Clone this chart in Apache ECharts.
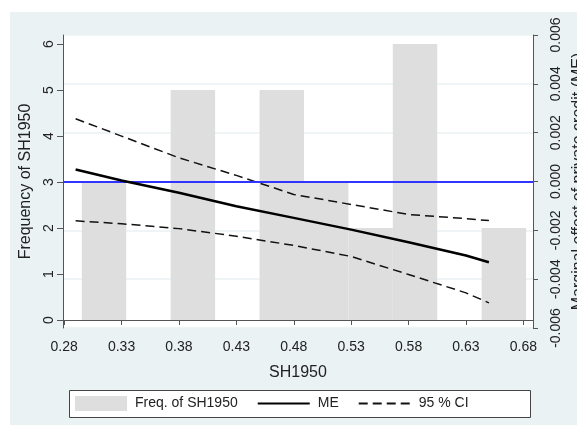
<!DOCTYPE html>
<html>
<head>
<meta charset="utf-8">
<script src="https://cdn.jsdelivr.net/npm/echarts@6.0.0/dist/echarts.min.js"></script>
<style>
  body { margin: 0; background: #fff; }
  #bg { position: absolute; left: 10px; top: 12px; width: 567px; height: 413px; background: #eaf2f3; }
  #chart { position: absolute; left: 0; top: 0; width: 577px; height: 425px; }
</style>
</head>
<body>
<div id="bg"></div>
<div id="chart"></div>
<script>
// histogram of SH1950 (bin edges + counts, left axis)
var binEdges = [0.2954, 0.3341, 0.3728, 0.4115, 0.4502, 0.4889, 0.5276, 0.5663, 0.6050, 0.6437, 0.6824];
var freq = [3, 0, 5, 0, 5, 3, 2, 6, 0, 2];

// marginal effect and 95% CI (right axis)
var meX = [0.29, 0.33, 0.38, 0.43, 0.48, 0.53, 0.58, 0.63, 0.65];
var me = [0.00049, 0.00004, -0.00046, -0.00101, -0.00149, -0.00197, -0.00249, -0.00303, -0.00331];
var ciUpper = [0.00257, 0.00186, 0.00097, 0.00025, -0.00053, -0.00094, -0.00135, -0.00152, -0.00160];
var ciLower = [-0.00161, -0.00173, -0.00193, -0.00224, -0.00262, -0.00307, -0.00381, -0.00456, -0.00497];

// tick labels
var xTicks = [0.28, 0.33, 0.38, 0.43, 0.48, 0.53, 0.58, 0.63, 0.68];
var freqTicks = [0, 1, 2, 3, 4, 5, 6];

var bars = [];
for (var i = 0; i < freq.length; i++) {
  bars.push([binEdges[i], binEdges[i + 1], freq[i]]);
}
function pairs(xs, ys) {
  var out = [];
  for (var i = 0; i < xs.length; i++) out.push([xs[i], ys[i]]);
  return out;
}

var font = "'Liberation Sans', Arial, sans-serif";
var txt = "#222";
var axisCol = "#555";

var chart = echarts.init(document.getElementById("chart"));
chart.setOption({
  backgroundColor: "transparent",
  animation: false,
  textStyle: { fontFamily: font },
  grid: {
    left: 63,
    right: 44,
    top: 35,
    bottom: 97,
    outerBoundsMode: "none",
    containLabel: false,
    show: true,
    backgroundColor: "#fff",
    borderWidth: 0
  },
  graphic: [{
    type: "rect",
    shape: { x: 69.5, y: 390.5, width: 461, height: 27 },
    style: { fill: "#fff", stroke: "#444", lineWidth: 1 }
  }],
  legend: {
    left: 75,
    top: 396,
    padding: 0,
    itemWidth: 52,
    itemHeight: 15,
    itemGap: 19,
    textStyle: { fontFamily: font, fontSize: 14, color: txt, padding: [0, 0, 0, 3] },
    data: [
      { name: "Freq. of SH1950", icon: "rect" },
      { name: "ME", itemStyle: { opacity: 0 } },
      { name: "95 % CI", itemStyle: { opacity: 0 } }
    ]
  },
  xAxis: {
    type: "value",
    min: 0.279,
    max: 0.6884,
    name: "SH1950",
    nameLocation: "middle",
    nameGap: 37,
    nameTextStyle: { fontSize: 16, color: txt, fontFamily: font },
    axisLine: { show: true, lineStyle: { color: axisCol, width: 1 } },
    axisTick: { show: true, length: 5, customValues: xTicks, lineStyle: { color: axisCol } },
    axisLabel: {
      customValues: xTicks,
      fontSize: 14,
      color: txt,
      margin: 12,
      formatter: function(v) { return v.toFixed(2); }
    },
    splitLine: { show: false }
  },
  yAxis: [
    {
      type: "value",
      position: "left",
      min: -0.174,
      max: 6.196,
      name: "Frequency of SH1950",
      nameLocation: "middle",
      nameRotate: 90,
      nameGap: 29,
      nameTextStyle: { fontSize: 16, color: txt, fontFamily: font },
      axisLine: { show: true, lineStyle: { color: axisCol, width: 1 } },
      axisTick: { show: true, length: 6, customValues: freqTicks, lineStyle: { color: axisCol } },
      axisLabel: {
        customValues: freqTicks,
        rotate: 90,
        fontSize: 14,
        color: txt,
        margin: 7
      },
      splitLine: { show: false }
    },
    {
      type: "value",
      position: "right",
      min: -0.006,
      max: 0.006,
      interval: 0.002,
      name: "Marginal effect of private credit (ME)",
      nameLocation: "middle",
      nameRotate: 90,
      nameGap: 36,
      nameTextStyle: { fontSize: 16, color: txt, fontFamily: font },
      axisLine: { show: true, lineStyle: { color: axisCol, width: 1 } },
      axisTick: { show: true, length: 5, lineStyle: { color: axisCol } },
      axisLabel: {
        rotate: 90,
        fontSize: 14,
        color: txt,
        margin: 16,
        formatter: function(v) {
          if (Math.abs(v) < 1e-9) return "0.000";
          return v.toFixed(3);
        }
      },
      splitLine: { show: true, lineStyle: { color: "#eaf2f3", width: 1.5 } }
    }
  ],
  series: [
    {
      name: "Freq. of SH1950",
      type: "custom",
      xAxisIndex: 0,
      yAxisIndex: 0,
      itemStyle: { color: "#dedede" },
      encode: { x: [0, 1], y: 2 },
      renderItem: function(params, api) {
        var p0 = api.coord([api.value(0), api.value(2)]);
        var p1 = api.coord([api.value(1), 0]);
        return {
          type: "rect",
          shape: { x: p0[0], y: p0[1], width: p1[0] - p0[0], height: p1[1] - p0[1] },
          style: { fill: "#dedede" }
        };
      },
      data: bars
    },
    {
      name: "ME",
      type: "line",
      yAxisIndex: 1,
      symbol: "none",
      lineStyle: { color: "#000", width: 2.5 },
      itemStyle: { color: "#000" },
      z: 5,
      markLine: {
        silent: true,
        symbol: "none",
        label: { show: false },
        lineStyle: { color: "#3333ff", width: 2, type: "solid" },
        data: [{ yAxis: 0 }]
      },
      data: pairs(meX, me)
    },
    {
      name: "95 % CI",
      type: "line",
      yAxisIndex: 1,
      symbol: "none",
      lineStyle: { color: "#111", width: 1.5, type: [9, 5] },
      itemStyle: { color: "#111" },
      data: pairs(meX, ciUpper)
    },
    {
      name: "95 % CI",
      type: "line",
      yAxisIndex: 1,
      symbol: "none",
      lineStyle: { color: "#111", width: 1.5, type: [9, 5] },
      itemStyle: { color: "#111" },
      data: pairs(meX, ciLower)
    }
  ]
});
window.addEventListener("resize", function() { chart.resize(); });
</script>
</body>
</html>
